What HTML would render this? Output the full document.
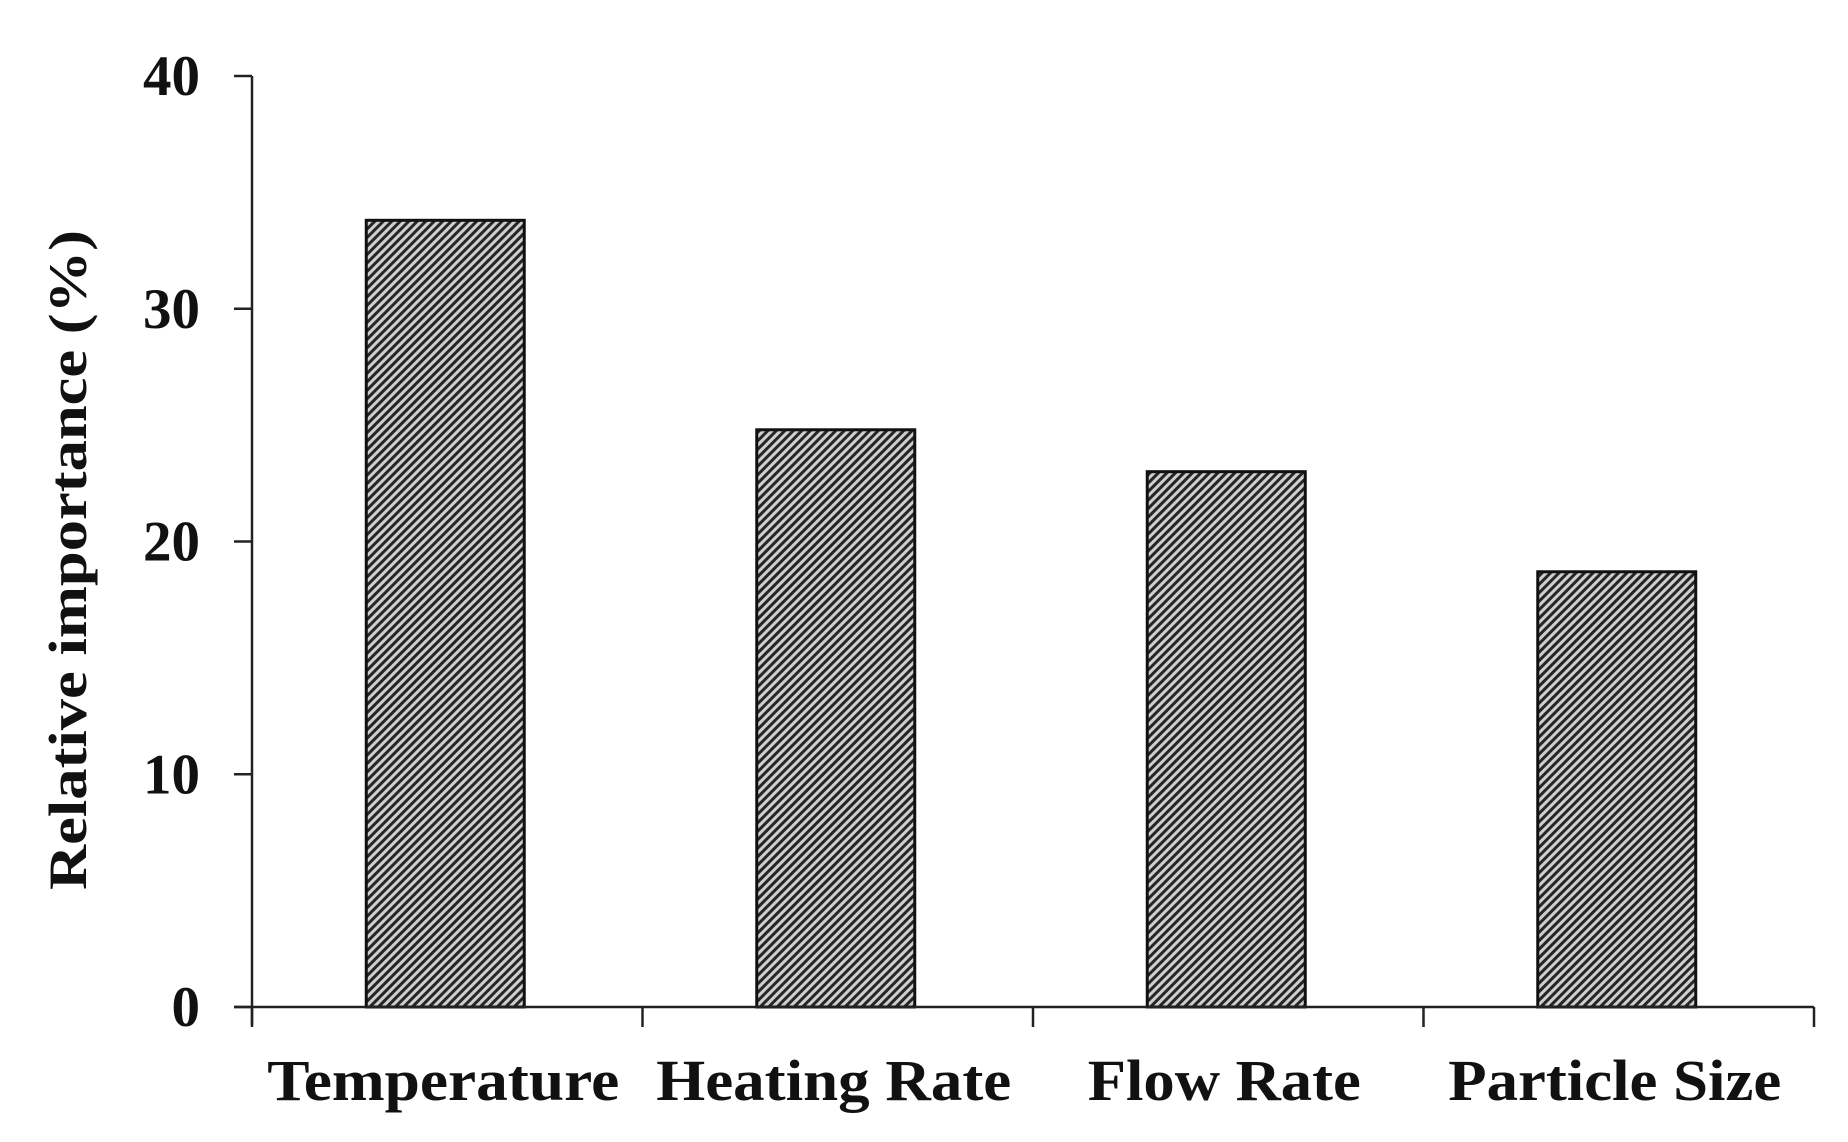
<!DOCTYPE html>
<html><head><meta charset="utf-8"><style>
html,body{margin:0;padding:0;background:#fff}
svg{display:block}
text{font-family:"Liberation Serif",serif;font-weight:bold;fill:#111}
</style></head><body>
<svg id="chart" width="1848" height="1142" viewBox="0 0 1848 1142" xmlns="http://www.w3.org/2000/svg">
<defs>
<pattern id="hatch" patternUnits="userSpaceOnUse" width="6" height="6" patternTransform="rotate(45)">
<rect width="6" height="6" fill="#cfcfcf"/>
<rect x="0" y="0" width="3" height="6" fill="#262626"/>
</pattern>
</defs>
<g id="plot"></g>
</svg>
<script>
const categories = ["Temperature","Heating Rate","Flow Rate","Particle Size"];
const values = [33.8, 24.8, 23.0, 18.7];
const yTicks = [0, 10, 20, 30, 40];
const yTickLabels = ["0","10","20","30","40"];

const NS = "http://www.w3.org/2000/svg";
const X0 = 252, X1 = 1814, Y0 = 1007, Y1 = 76, YMAX = 40;
const catW = (X1 - X0) / categories.length;
const barW = 158;
function yScale(v){ return Y0 - (v / YMAX) * (Y0 - Y1); }
function xCenter(i){ return X0 + catW * (i + 0.5); }
const g = document.getElementById('plot');
function mk(tag, attrs){ const e = document.createElementNS(NS, tag); for (const k in attrs) e.setAttribute(k, attrs[k]); g.appendChild(e); return e; }

values.forEach((v, i) => {
  const r = mk('rect', {x: xCenter(i) - barW/2 - 2, y: yScale(v), width: barW, height: Y0 - yScale(v), fill: 'url(#hatch)', stroke: '#111', 'stroke-width': 3});
  
  
});

const ya = mk('line', {x1: X0, y1: Y1, x2: X0, y2: Y0 + 18, stroke: '#222', 'stroke-width': 2.5});


const xa = mk('line', {x1: X0 - 18, y1: Y0, x2: X1, y2: Y0, stroke: '#222', 'stroke-width': 2.5});



yTicks.forEach((t, i) => {
  const y = yScale(t);
  const tk = mk('line', {x1: X0 - 18, y1: y, x2: X0, y2: y, stroke: '#222', 'stroke-width': 2.5});
  
  
  const lb = mk('text', {x: 200, y: y + 19, 'text-anchor': 'end', 'font-size': 57});
  lb.textContent = yTickLabels[i];
  
  
});

for (let i = 0; i <= categories.length; i++) {
  const x = X0 + catW * i;
  const tk = mk('line', {x1: x, y1: Y0, x2: x, y2: Y0 + 20, stroke: '#222', 'stroke-width': 2.5});
  
  
}
const labelWidths = [352, 355, 273, 333];
categories.forEach((c, i) => {
  const lb = mk('text', {x: xCenter(i) - 4, y: 1100, 'text-anchor': 'middle', 'font-size': 58, textLength: labelWidths[i], lengthAdjust: 'spacingAndGlyphs'});
  lb.textContent = c;
  
  
});

const yt = mk('text', {x: 0, y: 0, 'text-anchor': 'middle', 'font-size': 54, transform: 'translate(86,560) rotate(-90)', textLength: 660, lengthAdjust: 'spacingAndGlyphs'});
yt.textContent = 'Relative importance (%)';


</script>
</body></html>
